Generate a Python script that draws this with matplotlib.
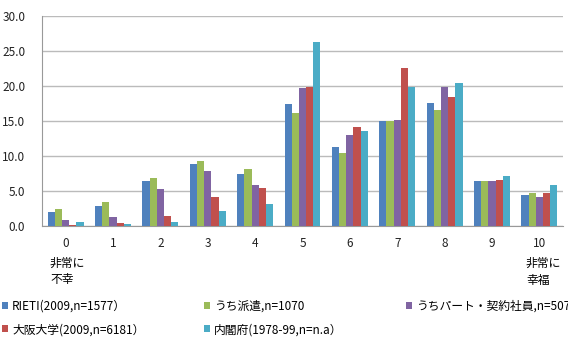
import matplotlib
matplotlib.use("Agg")
import matplotlib.pyplot as plt
import numpy as np

plt.rcParams['font.family'] = ['Noto Sans CJK JP', 'DejaVu Sans']

scores = list(range(11))
rieti = [2.0, 2.8, 6.4, 8.9, 7.4, 17.4, 11.3, 15.0, 17.6, 6.5, 4.5]
haken = [2.5, 3.4, 6.9, 9.3, 8.1, 16.2, 10.5, 15.0, 16.6, 6.5, 4.7]
part = [0.9, 1.3, 5.3, 7.9, 5.9, 19.7, 13.0, 15.2, 19.9, 6.5, 4.1]
osaka = [0.2, 0.5, 1.4, 4.1, 5.5, 19.8, 14.2, 22.6, 18.4, 6.6, 4.7]
naikaku = [0.6, 0.3, 0.6, 2.1, 3.2, 26.3, 13.6, 19.8, 20.4, 7.1, 5.9]

series = [
    ("RIETI(2009,n=1577）", rieti, "#4F81BD"),
    ("うち派遣,n=1070", haken, "#9BBB59"),
    ("うちパート・契約社員,n=507", part, "#8064A2"),
    ("大阪大学(2009,n=6181）", osaka, "#C0504D"),
    ("内閣府(1978-99,n=n.a）", naikaku, "#4BACC6"),
]

W, H = 568, 340
fig = plt.figure(figsize=(W / 100, H / 100), dpi=100)
ax = fig.add_axes([42 / W, 1 - 226 / H, (563 - 42) / W, (226 - 16) / H])

x = np.arange(len(scores))
bw = 0.152
handles = []
for i, (name, vals, col) in enumerate(series):
    b = ax.bar(x + (i - 2) * bw, vals, bw, color=col, label=name, zorder=3)
    handles.append(b)

ax.set_xlim(-0.5, 10.5)
ax.set_ylim(0, 30)
ax.set_yticks(np.arange(0, 31, 5))
ax.set_yticklabels(["%.1f" % v for v in np.arange(0, 31, 5)])
ax.set_xticks(x)
ax.set_xticklabels([str(s) for s in scores])
ax.tick_params(axis='both', length=0, labelsize=8.5, colors='#222222')
ax.tick_params(axis='x', pad=8)
ax.tick_params(axis='y', pad=12)
ax.yaxis.grid(True, color='#BBBBBB', linewidth=1, zorder=0)
for s in ['top', 'right']:
    ax.spines[s].set_visible(False)
ax.spines['left'].set_color('#999999')
ax.spines['bottom'].set_color('#999999')

fig.text(50 / W, 1 - 263 / H, "非常に", fontsize=8.5, va='center', ha='left')
fig.text(50 / W, 1 - 280 / H, "不幸", fontsize=8.5, va='center', ha='left')
fig.text(526 / W, 1 - 263 / H, "非常に", fontsize=8.5, va='center', ha='left')
fig.text(526 / W, 1 - 280 / H, "幸福", fontsize=8.5, va='center', ha='left')

cols = [([handles[0], handles[3]], 2), ([handles[1], handles[4]], 204), ([handles[2]], 406)]
for hs, px in cols:
    fig.legend(handles=hs, labels=[h.get_label() for h in hs], loc='upper left',
               bbox_to_anchor=(px / W, 1 - 300 / H), frameon=False, fontsize=8.5,
               borderpad=0, borderaxespad=0, handlelength=0.55, handleheight=0.55,
               handletextpad=0.3, labelspacing=0.85)

fig.savefig("out.png", dpi=100)
